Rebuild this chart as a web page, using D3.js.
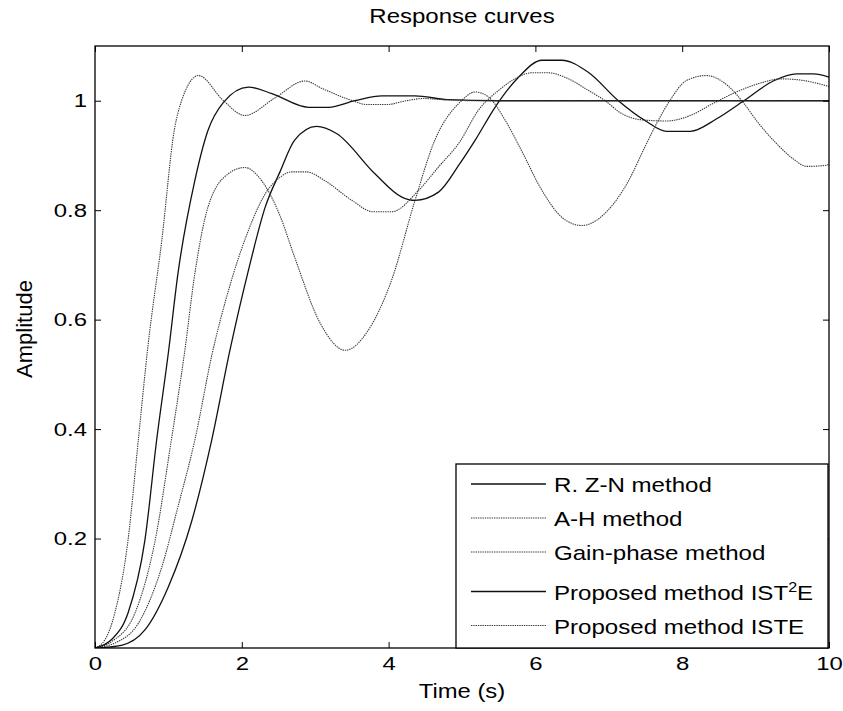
<!DOCTYPE html>
<html>
<head>
<meta charset="utf-8">
<script src="https://cdn.jsdelivr.net/npm/d3@7"></script>
<style>
  html, body { margin: 0; padding: 0; background: #fff; }
  text { font-family: "Liberation Sans", Arial, Helvetica, sans-serif; fill: #000; }
</style>
</head>
<body>
<svg id="chart" width="843" height="711"></svg>
<script>
// ---------------- data ----------------
const xTicks = [0, 2, 4, 6, 8, 10];
const xTickLabels = ["0", "2", "4", "6", "8", "10"];
const yTicks = [0.2, 0.4, 0.6, 0.8, 1];
const yTickLabels = ["0.2", "0.4", "0.6", "0.8", "1"];

const seriesNames = ["R. Z-N method", "A-H method", "Gain-phase method", "Proposed method IST2E", "Proposed method ISTE"];
const seriesDotted = [false, true, true, false, true];

// R. Z-N method (solid, slow, oscillating)
const rznT = [0, 0.36, 0.68, 1.0, 1.32, 1.59, 1.84, 2.09, 2.32, 2.52, 2.72, 3.02, 3.29, 3.81, 4.18, 4.36, 4.68, 4.97, 5.18, 5.45, 5.77, 6.09, 6.36, 6.72, 7.13, 7.49, 7.79, 8.11, 8.47, 8.83, 9.24, 9.56, 9.79, 10];
const rznV = [0, 0.005, 0.033, 0.112, 0.233, 0.38, 0.545, 0.69, 0.806, 0.87, 0.928, 0.953, 0.94, 0.867, 0.824, 0.818, 0.833, 0.885, 0.928, 0.988, 1.043, 1.074, 1.074, 1.052, 1.0, 0.964, 0.944, 0.944, 0.967, 0.999, 1.036, 1.049, 1.049, 1.043];

// A-H method (dotted, strongly oscillating)
const ahT = [0, 0.23, 0.545, 0.82, 1.04, 1.22, 1.36, 1.54, 1.82, 2.04, 2.27, 2.52, 2.72, 3.07, 3.41, 3.72, 4.04, 4.36, 4.63, 4.97, 5.18, 5.36, 5.59, 5.81, 6.09, 6.36, 6.63, 6.99, 7.27, 7.49, 7.65, 7.83, 8.06, 8.33, 8.58, 8.83, 9.01, 9.29, 9.51, 9.7, 9.96, 10];
const ahV = [0, 0.012, 0.064, 0.197, 0.38, 0.54, 0.684, 0.806, 0.867, 0.878, 0.854, 0.79, 0.714, 0.593, 0.544, 0.58, 0.672, 0.818, 0.928, 0.997, 1.016, 1.007, 0.964, 0.909, 0.836, 0.787, 0.772, 0.8, 0.854, 0.915, 0.958, 1.0, 1.037, 1.046, 1.032, 0.997, 0.964, 0.921, 0.894, 0.88, 0.882, 0.884];

// Gain-phase method (dotted)
const gpT = [0, 0.27, 0.59, 0.91, 1.13, 1.36, 1.6, 1.82, 2.09, 2.32, 2.52, 2.68, 2.88, 3.13, 3.5, 3.79, 4.04, 4.4, 4.68, 4.97, 5.22, 5.5, 5.72, 5.95, 6.18, 6.45, 6.72, 6.95, 7.17, 7.45, 7.79, 8.11, 8.42, 8.79, 9.11, 9.34, 9.65, 10];
const gpV = [0, 0.009, 0.045, 0.148, 0.258, 0.38, 0.54, 0.654, 0.763, 0.83, 0.86, 0.87, 0.87, 0.854, 0.818, 0.797, 0.797, 0.835, 0.879, 0.925, 0.982, 1.019, 1.04, 1.051, 1.051, 1.04, 1.019, 1.0, 0.977, 0.965, 0.963, 0.973, 0.995, 1.019, 1.034, 1.04, 1.037, 1.026];

// Proposed method IST2E (solid, fast)
const ist2eT = [0, 0.23, 0.45, 0.68, 0.84, 1.0, 1.13, 1.36, 1.54, 1.75, 2.09, 2.41, 2.91, 3.18, 3.54, 3.91, 4.36, 4.8, 5.5, 10];
const ist2eV = [0, 0.016, 0.064, 0.197, 0.38, 0.54, 0.684, 0.854, 0.946, 0.997, 1.025, 1.013, 0.988, 0.988, 1.0, 1.009, 1.009, 1.002, 1.0, 1.0];

// Proposed method ISTE (dotted, fastest)
const isteT = [0, 0.14, 0.27, 0.45, 0.59, 0.72, 0.91, 1.08, 1.18, 1.41, 1.75, 2.04, 2.45, 2.86, 3.1, 3.51, 3.7, 3.97, 4.24, 4.47, 4.73, 5.2, 10];
const isteV = [0, 0.016, 0.064, 0.197, 0.38, 0.55, 0.745, 0.946, 1.0, 1.046, 1.0, 0.973, 1.005, 1.036, 1.022, 1.0, 0.993, 0.993, 1.0, 1.004, 1.002, 1.0, 1.0];

const seriesT = [rznT, ahT, gpT, ist2eT, isteT];
const seriesV = [rznV, ahV, gpV, ist2eV, isteV];

// ---------------- layout ----------------
const W = 843, H = 711;
const plot = { left: 95, right: 829, top: 46, bottom: 648 };
const tickFont = 19, tickSX = 1.26;

const svg = d3.select("#chart");
const x = d3.scaleLinear().domain([0, 10]).range([plot.left, plot.right]);
const y = d3.scaleLinear().domain([0, 1.1]).range([plot.bottom, plot.top]);

svg.append("rect").attr("width", W).attr("height", H).attr("fill", "#fff");

// clip
svg.append("clipPath").attr("id", "clip").append("rect")
  .attr("x", plot.left).attr("y", plot.top)
  .attr("width", plot.right - plot.left).attr("height", plot.bottom - plot.top);

// curves
const line = d3.line().x(d => x(d[0])).y(d => y(d[1])).curve(d3.curveMonotoneX);
const gLines = svg.append("g").attr("clip-path", "url(#clip)");
seriesNames.forEach((name, i) => {
  const pts = seriesT[i].map((t, j) => [t, seriesV[i][j]]);
  gLines.append("path")
    .attr("d", line(pts))
    .attr("fill", "none")
    .attr("stroke", seriesDotted[i] ? "#3a3a3a" : "#111")
    .attr("stroke-width", seriesDotted[i] ? 1.1 : 1.3)
    .attr("stroke-dasharray", seriesDotted[i] ? "1.4,0.9" : null);
});

// axes
const xAxis = d3.axisBottom(x).tickValues(xTicks)
  .tickFormat((d, i) => xTickLabels[i]).tickSizeInner(-6).tickSizeOuter(0).tickPadding(9);
const gx = svg.append("g").attr("transform", `translate(0,${plot.bottom})`).call(xAxis);
gx.selectAll("text").attr("font-size", tickFont).attr("transform", `scale(${tickSX},1)`);

const yAxis = d3.axisLeft(y).tickValues(yTicks)
  .tickFormat((d, i) => yTickLabels[i]).tickSizeInner(-6).tickSizeOuter(0).tickPadding(8 / tickSX);
const gy = svg.append("g").attr("transform", `translate(${plot.left},0)`).call(yAxis);
gy.selectAll("text").attr("font-size", tickFont).attr("transform", `scale(${tickSX},1)`);

const xTop = d3.axisTop(x).tickValues(xTicks).tickFormat("").tickSizeInner(-6).tickSizeOuter(0);
svg.append("g").attr("transform", `translate(0,${plot.top})`).call(xTop);
const yRight = d3.axisRight(y).tickValues(yTicks).tickFormat("").tickSizeInner(-6).tickSizeOuter(0);
svg.append("g").attr("transform", `translate(${plot.right},0)`).call(yRight);

svg.selectAll(".tick line").attr("stroke", "#000").attr("stroke-width", 1);
svg.selectAll(".domain").remove();

// box
svg.append("rect")
  .attr("x", plot.left).attr("y", plot.top)
  .attr("width", plot.right - plot.left).attr("height", plot.bottom - plot.top)
  .attr("fill", "none").attr("stroke", "#000").attr("stroke-width", 1.3);

// title and labels
const midX = (plot.left + plot.right) / 2;
svg.append("text").attr("transform", `translate(${midX},23) scale(1.2,1)`)
  .attr("text-anchor", "middle").attr("font-size", 20).text("Response curves");
svg.append("text").attr("transform", `translate(${midX},698) scale(1.19,1)`)
  .attr("text-anchor", "middle").attr("font-size", 20).text("Time (s)");
svg.append("text").attr("transform", `translate(32,329) rotate(-90)`)
  .attr("text-anchor", "middle").attr("font-size", 22).text("Amplitude");

// legend
const lg = { left: 456, right: 828, top: 464, bottom: 648 };
svg.append("rect").attr("x", lg.left).attr("y", lg.top)
  .attr("width", lg.right - lg.left).attr("height", lg.bottom - lg.top)
  .attr("fill", "#fff").attr("stroke", "#000").attr("stroke-width", 1.3);
const legFont = 21, legSX = 1.147;
seriesNames.forEach((name, i) => {
  const ly = lg.top + 20 + i * 34 + (i >= 3 ? 5.5 : 0);
  svg.append("line")
    .attr("x1", lg.left + 15).attr("x2", lg.left + 90).attr("y1", ly).attr("y2", ly)
    .attr("stroke", seriesDotted[i] ? "#3a3a3a" : "#111")
    .attr("stroke-width", seriesDotted[i] ? 1.1 : 1.3)
    .attr("stroke-dasharray", seriesDotted[i] ? "1.4,0.9" : null);
  const t = svg.append("text")
    .attr("transform", `translate(${lg.left + 98},${ly + 8}) scale(${legSX},1)`)
    .attr("font-size", legFont);
  if (name.includes("IST2E")) {
    t.append("tspan").text("Proposed method IST");
    t.append("tspan").attr("dy", -8).attr("font-size", 14).text("2");
    t.append("tspan").attr("dy", 8).text("E");
  } else {
    t.text(name);
  }
});
</script>
</body>
</html>
